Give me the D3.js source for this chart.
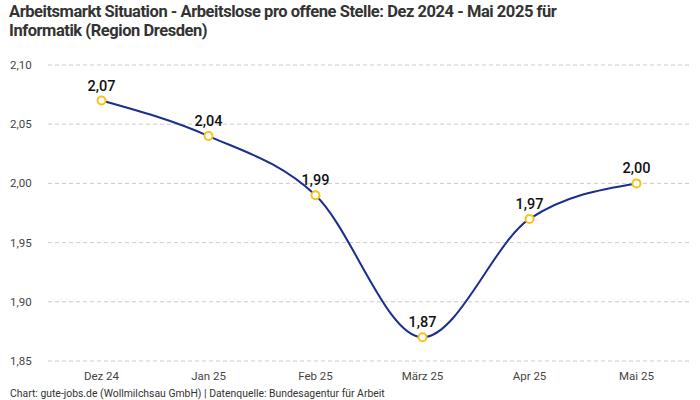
<!DOCTYPE html>
<html>
<head>
<meta charset="utf-8">
<script src="https://cdn.jsdelivr.net/npm/d3@7"></script>
<style>
    body { margin: 0; background: #fff; }
    svg { display: block; font-family: Roboto, 'Open Sans', sans-serif; }
</style>
</head>
<body>
<svg id="chart" width="700" height="400"></svg>
<script>
// data
let months = ['Dez 24', 'Jan 25', 'Feb 25', 'März 25', 'Apr 25', 'Mai 25']
let values = [2.07, 2.04, 1.99, 1.87, 1.97, 2.00]
let yTicks = [1.85, 1.90, 1.95, 2.00, 2.05, 2.10]

let width = 700
let svg = d3.select('#chart')
let fmt = d => d.toFixed(2).replace('.', ',')

// title
let title = svg.append('text').attr('x', 9).attr('font-weight', 700).attr('font-size', 16.5)
    .attr('fill', '#333').attr('letter-spacing', -0.45)
title.append('tspan').attr('x', 9).attr('y', 17).text('Arbeitsmarkt Situation - Arbeitslose pro offene Stelle: Dez 2024 - Mai 2025 für')
title.append('tspan').attr('x', 9).attr('y', 36).text('Informatik (Region Dresden)')

// scales
let xScale = d3.scaleBand().domain(months).range([48, 690])
let yScale = d3.scaleLinear().domain([1.85, 2.10]).range([361, 65])
let cx = d => xScale(d) + xScale.bandwidth() / 2

// grid
let grid = svg.append('g')
grid.selectAll('line').data(yTicks).join('line')
    .attr('x1', 48).attr('x2', 690)
    .attr('y1', d => yScale(d)).attr('y2', d => yScale(d))
    .attr('stroke', '#ccc').attr('stroke-dasharray', '4,3')
grid.selectAll('text').data(yTicks).join('text')
    .attr('x', 10).attr('y', d => yScale(d) + 4)
    .attr('font-size', 11.5).attr('fill', '#444')
    .text(fmt)

// x axis labels
svg.append('g').selectAll('text').data(months).join('text')
    .attr('x', d => cx(d)).attr('y', 380)
    .attr('text-anchor', 'middle').attr('font-size', 11.5).attr('fill', '#444')
    .text(d => d)

// line
let pts = months.map((m, i) => [cx(m), yScale(values[i])])
let line = d3.line().curve(d3.curveMonotoneX)
svg.append('path').attr('d', line(pts))
    .attr('fill', 'none').attr('stroke', '#1a2e8f').attr('stroke-width', 2)

// points
svg.append('g').selectAll('circle').data(pts).join('circle')
    .attr('cx', d => d[0]).attr('cy', d => d[1]).attr('r', 4)
    .attr('fill', '#fff').attr('stroke', '#f7c21b').attr('stroke-width', 2)

// value labels
svg.append('g').selectAll('text').data(values).join('text')
    .attr('x', (d, i) => pts[i][0]).attr('y', (d, i) => pts[i][1] - 10)
    .attr('text-anchor', 'middle').attr('font-size', 14.5).attr('font-weight', 500)
    .attr('fill', '#111')
    .text(fmt)

// footer
svg.append('text').attr('x', 10).attr('y', 397).attr('font-size', 10.4).attr('fill', '#333')
    .text('Chart: gute-jobs.de (Wollmilchsau GmbH) | Datenquelle: Bundesagentur für Arbeit')
</script>
</body>
</html>
